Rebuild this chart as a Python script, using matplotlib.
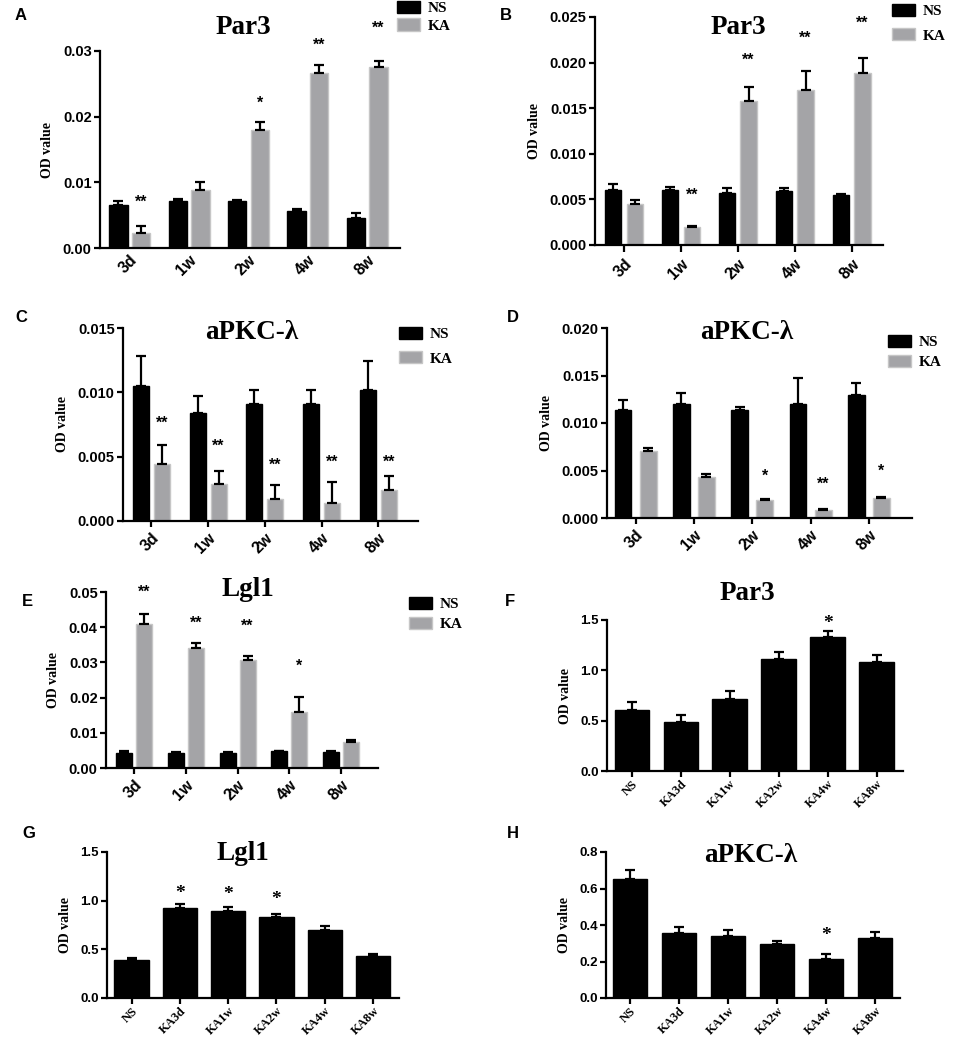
import numpy as np
import matplotlib
matplotlib.use("Agg")
import matplotlib.pyplot as plt
from matplotlib.patches import Patch

W, H = 957, 1038

SANS = "Liberation Sans"
SERIF = "Liberation Serif"
NS_COLOR = "black"
KA_COLOR = "#a4a4a7"
KA_EDGE = "#c6c6c6"

TIMES = ["3d", "1w", "2w", "4w", "8w"]
GROUPS = ["NS", "KA3d", "KA1w", "KA2w", "KA4w", "KA8w"]

# A: Par3
A_NS = [0.0065, 0.0072, 0.0072, 0.0057, 0.0046]
A_NS_ERR = [0.0007, 0.0003, 0.0001, 0.0002, 0.0007]
A_KA = [0.0023, 0.0088, 0.0180, 0.0267, 0.0275]
A_KA_ERR = [0.0010, 0.0013, 0.0012, 0.0011, 0.0010]
A_STARS = ["**", "", "*", "**", "**"]
A_STAR_Y = [0.0069, np.nan, 0.0220, 0.0309, 0.0335]

# B: Par3
B_NS = [0.0060, 0.0060, 0.0057, 0.0059, 0.0055]
B_NS_ERR = [0.0007, 0.0004, 0.0006, 0.0003, 0.0001]
B_KA = [0.0045, 0.0020, 0.0158, 0.0170, 0.0189]
B_KA_ERR = [0.0004, 0.0001, 0.0015, 0.0021, 0.0016]
B_STARS = ["", "**", "**", "**", "**"]
B_STAR_Y = [np.nan, 0.0055, 0.0203, 0.0227, 0.0243]

# C: aPKC-λ
C_NS = [0.0105, 0.0084, 0.0091, 0.0091, 0.0102]
C_NS_ERR = [0.0023, 0.0013, 0.0011, 0.0011, 0.0022]
C_KA = [0.0044, 0.0029, 0.0017, 0.0014, 0.0024]
C_KA_ERR = [0.0015, 0.0010, 0.0011, 0.0016, 0.0011]
C_STARS = ["**", "**", "**", "**", "**"]
C_STAR_Y = [0.0076, 0.0058, 0.0043, 0.0046, 0.0046]

# D: aPKC-λ
D_NS = [0.0114, 0.0120, 0.0114, 0.0120, 0.0130]
D_NS_ERR = [0.0010, 0.0012, 0.0003, 0.0027, 0.0012]
D_KA = [0.0071, 0.0043, 0.0019, 0.0008, 0.0021]
D_KA_ERR = [0.0003, 0.0003, 0.0001, 0.0001, 0.0001]
D_STARS = ["", "", "*", "**", "*"]
D_STAR_Y = [np.nan, np.nan, 0.0044, 0.0036, 0.0049]

# E: Lgl1
E_NS = [0.0044, 0.0044, 0.0044, 0.0047, 0.0046]
E_NS_ERR = [0.0003, 0.0002, 0.0002, 0.0002, 0.0002]
E_KA = [0.0409, 0.0340, 0.0307, 0.0159, 0.0073]
E_KA_ERR = [0.0028, 0.0016, 0.0012, 0.0042, 0.0007]
E_STARS = ["**", "**", "**", "*", ""]
E_STAR_Y = [0.0500, 0.0410, 0.0404, 0.0288, np.nan]

# F: Par3
F_VAL = [0.603, 0.487, 0.712, 1.113, 1.331, 1.083]
F_ERR = [0.086, 0.069, 0.086, 0.072, 0.060, 0.069]
F_STARS = ["", "", "", "", "*", ""]
F_STAR_Y = [np.nan, np.nan, np.nan, np.nan, 1.47, np.nan]

# G: Lgl1
G_VAL = [0.387, 0.921, 0.897, 0.832, 0.702, 0.428]
G_ERR = [0.027, 0.041, 0.038, 0.034, 0.034, 0.024]
G_STARS = ["", "*", "*", "*", "", ""]
G_STAR_Y = [np.nan, 1.07, 1.06, 1.01, np.nan, np.nan]

# H: aPKC-λ
H_VAL = [0.651, 0.355, 0.337, 0.295, 0.211, 0.330]
H_ERR = [0.052, 0.033, 0.038, 0.018, 0.028, 0.034]
H_STARS = ["", "", "", "", "*", ""]
H_STAR_Y = [np.nan, np.nan, np.nan, np.nan, 0.345, np.nan]


GROUPED = [
    dict(label="A", label_xy=(15, 15), rect=(100, 51, 400, 248), title="Par3", title_xy=(243, 27),
         ns=A_NS, ns_err=A_NS_ERR, ka=A_KA, ka_err=A_KA_ERR, stars=A_STARS, star_y=A_STAR_Y,
         ymax=0.03, ystep=0.01, yfmt="{:.2f}", offset=0.19, width=0.31, xlim=(-0.5, 4.55),
         legend_xy=(397, 1), legend_sp=0.2, xtick_len=0),
    dict(label="B", label_xy=(500, 16), rect=(595, 17, 883, 245), title="Par3", title_xy=(738, 28),
         ns=B_NS, ns_err=B_NS_ERR, ka=B_KA, ka_err=B_KA_ERR, stars=B_STARS, star_y=B_STAR_Y,
         ymax=0.025, ystep=0.005, yfmt="{:.3f}", offset=0.19, width=0.29, xlim=(-0.51, 4.55),
         legend_xy=(892, 4), legend_sp=0.65, xtick_len=5),
    dict(label="C", label_xy=(15, 317), rect=(123, 328, 418, 521), title="aPKC-λ", title_xy=(252, 333),
         ns=C_NS, ns_err=C_NS_ERR, ka=C_KA, ka_err=C_KA_ERR, stars=C_STARS, star_y=C_STAR_Y,
         ymax=0.015, ystep=0.005, yfmt="{:.3f}", offset=0.185, width=0.28, xlim=(-0.5, 4.7),
         legend_xy=(399, 327), legend_sp=0.65, xtick_len=4),
    dict(label="D", label_xy=(507, 317), rect=(607, 328, 912, 518), title="aPKC-λ", title_xy=(747, 333),
         ns=D_NS, ns_err=D_NS_ERR, ka=D_KA, ka_err=D_KA_ERR, stars=D_STARS, star_y=D_STAR_Y,
         ymax=0.020, ystep=0.005, yfmt="{:.3f}", offset=0.215, width=0.29, xlim=(-0.49, 4.74),
         legend_xy=(888, 335), legend_sp=0.35, xtick_len=4),
    dict(label="E", label_xy=(22, 602), rect=(106, 592, 378, 768), title="Lgl1", title_xy=(248, 590),
         ns=E_NS, ns_err=E_NS_ERR, ka=E_KA, ka_err=E_KA_ERR, stars=E_STARS, star_y=E_STAR_Y,
         ymax=0.05, ystep=0.01, yfmt="{:.2f}", offset=0.195, width=0.31, xlim=(-0.55, 4.72),
         legend_xy=(409, 597), legend_sp=0.35, xtick_len=4),
]

SINGLE = [
    dict(label="F", label_xy=(505, 602), rect=(607, 620, 903, 771), title="Par3", title_xy=(747, 593),
         vals=F_VAL, errs=F_ERR, stars=F_STARS, star_y=F_STAR_Y,
         ymax=1.5, ystep=0.5, yfmt="{:.1f}", xlim=(-0.51, 5.54)),
    dict(label="G", label_xy=(22, 833), rect=(107, 852, 399, 998), title="Lgl1", title_xy=(243, 853),
         vals=G_VAL, errs=G_ERR, stars=G_STARS, star_y=G_STAR_Y,
         ymax=1.5, ystep=0.5, yfmt="{:.1f}", xlim=(-0.51, 5.54)),
    dict(label="H", label_xy=(507, 833), rect=(606, 852, 900, 998), title="aPKC-λ", title_xy=(751, 855),
         vals=H_VAL, errs=H_ERR, stars=H_STARS, star_y=H_STAR_Y,
         ymax=0.8, ystep=0.2, yfmt="{:.1f}", xlim=(-0.49, 5.51)),
]


def fx(px):
    return px / W


def fy(py):
    return 1 - py / H


def make_axes(fig, rect):
    l, t, r, b = rect
    ax = fig.add_axes([fx(l), fy(b), (r - l) / W, (b - t) / H])
    for side in ("top", "right"):
        ax.spines[side].set_visible(False)
    for side in ("left", "bottom"):
        ax.spines[side].set_linewidth(1.6)
    return ax


def style_axes(fig, ax, spec, xlabels, xfont, xsize, ysize, xpad):
    ax.set_ylim(0, spec["ymax"])
    ax.set_xlim(*spec["xlim"])
    yt = np.arange(0, spec["ymax"] + spec["ystep"] / 2, spec["ystep"])
    ax.set_yticks(yt)
    ax.set_yticklabels([spec["yfmt"].format(v) for v in yt], fontfamily=SANS,
                       fontweight="bold", fontsize=ysize)
    ax.set_xticks(np.arange(len(xlabels)))
    ax.set_xticklabels(xlabels, rotation=45, ha="right", rotation_mode="anchor",
                       fontfamily=xfont, fontweight="bold", fontsize=xsize)
    ax.tick_params(axis="y", length=4, width=1.6, pad=2)
    ax.tick_params(axis="x", length=spec.get("xtick_len", 4), width=1.6, pad=xpad)
    ax.set_ylabel("OD value", fontfamily=SERIF, fontweight="bold", fontsize=10, labelpad=6)
    fig.text(fx(spec["title_xy"][0]), fy(spec["title_xy"][1]), spec["title"], ha="center",
             va="center", fontfamily=SERIF, fontweight="bold", fontsize=19.5)
    fig.text(fx(spec["label_xy"][0]), fy(spec["label_xy"][1]), spec["label"], ha="left",
             va="center", fontfamily=SANS, fontweight="bold", fontsize=12)


def add_errors(ax, x, vals, errs):
    ax.errorbar(x, vals, yerr=[np.zeros(len(errs)), errs], fmt="none", ecolor="black",
                elinewidth=1.6, capsize=3.5, capthick=1.6, zorder=3)


def add_stars(ax, x, stars, star_y, font, size):
    for xi, s, y in zip(x, stars, star_y):
        if s:
            ax.text(xi, y, s, ha="center", va="center", fontfamily=font, fontweight="bold",
                    fontsize=size, clip_on=False)


def plot_grouped(fig, spec):
    ax = make_axes(fig, spec["rect"])
    x = np.arange(len(TIMES))
    off, w = spec["offset"], spec["width"]
    ax.bar(x - off, spec["ns"], w, color=NS_COLOR, edgecolor=NS_COLOR, zorder=2)
    ax.bar(x + off, spec["ka"], w, color=KA_COLOR, edgecolor=KA_EDGE, linewidth=1, zorder=2)
    add_errors(ax, x - off, spec["ns"], spec["ns_err"])
    add_errors(ax, x + off, spec["ka"], spec["ka_err"])
    add_stars(ax, x + off, spec["stars"], spec["star_y"], SANS, 11.5)
    style_axes(fig, ax, spec, TIMES, SANS, 11.5, 10.5, 3)

    handles = [Patch(facecolor=NS_COLOR, edgecolor=NS_COLOR),
               Patch(facecolor=KA_COLOR, edgecolor=KA_EDGE)]
    ax.legend(handles, ["NS", "KA"], loc="upper left",
              bbox_to_anchor=(fx(spec["legend_xy"][0]), fy(spec["legend_xy"][1])),
              bbox_transform=fig.transFigure, frameon=False, borderpad=0, borderaxespad=0,
              handlelength=1.5, handleheight=0.85, handletextpad=0.5,
              labelspacing=spec["legend_sp"], prop=dict(family=SERIF, weight="bold", size=11))


def plot_single(fig, spec):
    ax = make_axes(fig, spec["rect"])
    x = np.arange(len(GROUPS))
    ax.bar(x, spec["vals"], 0.71, color=NS_COLOR, edgecolor=NS_COLOR, zorder=2)
    add_errors(ax, x, spec["vals"], spec["errs"])
    add_stars(ax, x, spec["stars"], spec["star_y"], SERIF, 14)
    style_axes(fig, ax, spec, GROUPS, SERIF, 9, 9.5, 1)


def main():
    fig = plt.figure(figsize=(W / 100, H / 100), dpi=100)
    for spec in GROUPED:
        plot_grouped(fig, spec)
    for spec in SINGLE:
        plot_single(fig, spec)
    fig.savefig("out.png", dpi=100)
    plt.close(fig)


if __name__ == "__main__":
    main()
